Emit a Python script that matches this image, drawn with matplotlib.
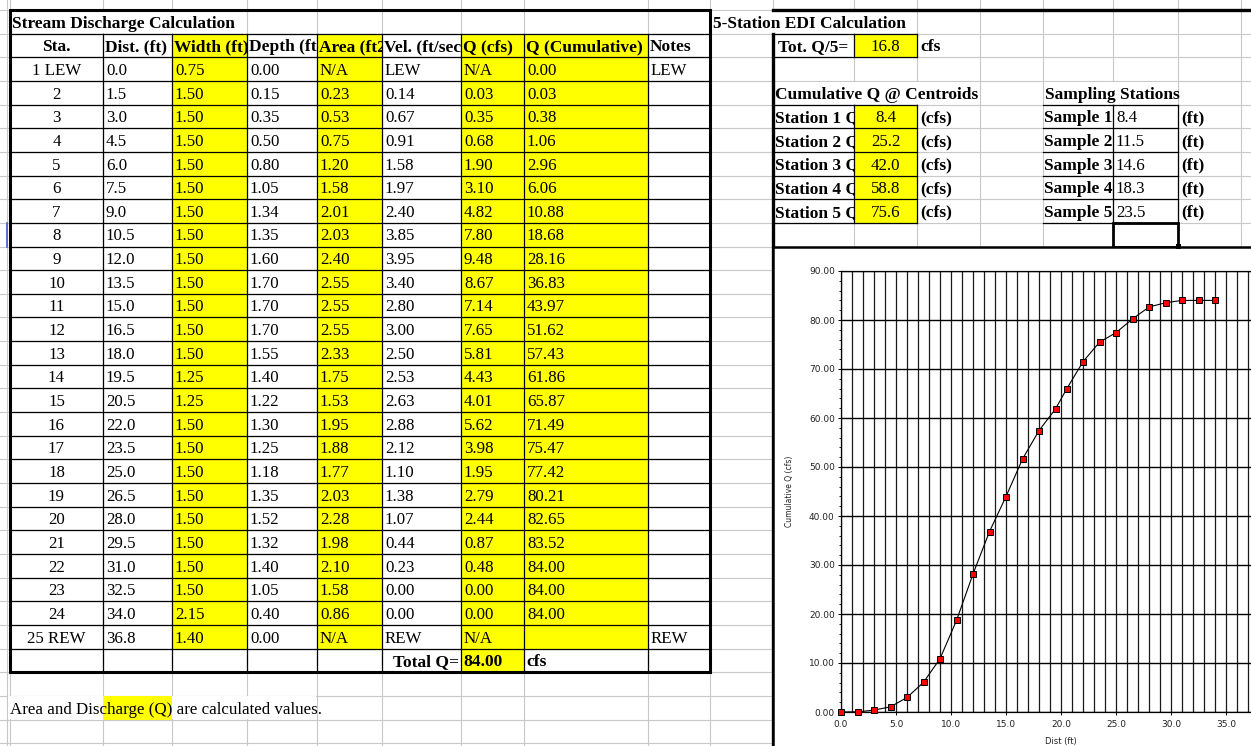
import numpy as np
import matplotlib
matplotlib.use("Agg")
import matplotlib.pyplot as plt
from matplotlib.patches import Rectangle
from matplotlib.transforms import Bbox, TransformedBbox
from matplotlib.ticker import MultipleLocator, FormatStrFormatter

# --- stream discharge table ---
stations = ["1 LEW", "2", "3", "4", "5", "6", "7", "8", "9", "10", "11", "12", "13",
            "14", "15", "16", "17", "18", "19", "20", "21", "22", "23", "24", "25 REW"]
dist = [0.0, 1.5, 3.0, 4.5, 6.0, 7.5, 9.0, 10.5, 12.0, 13.5, 15.0, 16.5, 18.0,
        19.5, 20.5, 22.0, 23.5, 25.0, 26.5, 28.0, 29.5, 31.0, 32.5, 34.0, 36.8]
width = [0.75, 1.50, 1.50, 1.50, 1.50, 1.50, 1.50, 1.50, 1.50, 1.50, 1.50, 1.50, 1.50,
         1.25, 1.25, 1.50, 1.50, 1.50, 1.50, 1.50, 1.50, 1.50, 1.50, 2.15, 1.40]
depth = [0.00, 0.15, 0.35, 0.50, 0.80, 1.05, 1.34, 1.35, 1.60, 1.70, 1.70, 1.70, 1.55,
         1.40, 1.22, 1.30, 1.25, 1.18, 1.35, 1.52, 1.32, 1.40, 1.05, 0.40, 0.00]
area = [None, 0.23, 0.53, 0.75, 1.20, 1.58, 2.01, 2.03, 2.40, 2.55, 2.55, 2.55, 2.33,
        1.75, 1.53, 1.95, 1.88, 1.77, 2.03, 2.28, 1.98, 2.10, 1.58, 0.86, None]
vel = ["LEW", 0.14, 0.67, 0.91, 1.58, 1.97, 2.40, 3.85, 3.95, 3.40, 2.80, 3.00, 2.50,
       2.53, 2.63, 2.88, 2.12, 1.10, 1.38, 1.07, 0.44, 0.23, 0.00, 0.00, "REW"]
q = [None, 0.03, 0.35, 0.68, 1.90, 3.10, 4.82, 7.80, 9.48, 8.67, 7.14, 7.65, 5.81,
     4.43, 4.01, 5.62, 3.98, 1.95, 2.79, 2.44, 0.87, 0.48, 0.00, 0.00, None]
q_cum = [0.00, 0.03, 0.38, 1.06, 2.96, 6.06, 10.88, 18.68, 28.16, 36.83, 43.97, 51.62, 57.43,
         61.86, 65.87, 71.49, 75.47, 77.42, 80.21, 82.65, 83.52, 84.00, 84.00, 84.00, ""]
notes = ["LEW"] + [""] * 23 + ["REW"]
headers = ["Sta.", "Dist. (ft)", "Width (ft)", "Depth (ft)", "Area (ft2)",
           "Vel. (ft/sec)", "Q (cfs)", "Q (Cumulative)", "Notes"]
total_q = 84.00

# --- 5-station EDI ---
tot_q5 = 16.8
station_q = [8.4, 25.2, 42.0, 58.8, 75.6]
sample_dist = [8.4, 11.5, 14.6, 18.3, 23.5]

W, H = 1251, 746
ROW_H = 23.65
TOP = 10
YELLOW = "#ffff00"
GRID = "#c8c8c8"
SERIF = "Liberation Serif"

cols = [10, 103, 172, 247, 317, 382, 461, 524, 648, 710]
rcols = [773, 854, 917, 980, 1043, 1113, 1178, 1241]
yellow_cols = [2, 4, 6, 7]


def ry(k):
    return TOP + ROW_H * k


def Y(y):
    return H - y


fig = plt.figure(figsize=(W / 100, H / 100), dpi=100)
sheet = fig.add_axes([0, 0, 1, 1])
sheet.set_xlim(0, W)
sheet.set_ylim(0, H)
sheet.axis("off")


def box(x0, y0, x1, y1, fc="white", ec="none", lw=0, z=1):
    sheet.add_patch(Rectangle((x0, Y(y1)), x1 - x0, y1 - y0, facecolor=fc,
                              edgecolor=ec, linewidth=lw, zorder=z))


def hline(y, x0, x1, color="black", lw=0.9, z=3):
    sheet.plot([x0, x1], [Y(y), Y(y)], color=color, lw=lw, zorder=z,
               solid_capstyle="projecting")


def vline(x, y0, y1, color="black", lw=0.9, z=3):
    sheet.plot([x, x], [Y(y0), Y(y1)], color=color, lw=lw, zorder=z,
               solid_capstyle="projecting")


def put(x0, x1, row, s, bold=False, align="left", clip=True, pad=3):
    y = Y(ry(row + 1) - 6)
    if align == "left":
        x, ha = x0 + pad, "left"
    elif align == "center":
        x, ha = (x0 + x1) / 2, "center"
    else:
        x, ha = x1 - pad, "right"
    t = sheet.text(x, y, s, ha=ha, va="baseline", family=SERIF,
                   fontsize=12.5 if bold else 12.2,
                   fontweight="bold" if bold else "normal", zorder=5)
    if clip:
        bb = Bbox.from_extents(x0, Y(ry(row + 1)), x1, Y(ry(row)))
        t.set_clip_box(TransformedBbox(bb, sheet.transData))
        t.set_clip_on(True)
    return t


def fmt(v, nd=2):
    if v is None:
        return "N/A"
    if isinstance(v, str):
        return v
    return f"{v:.{nd}f}"


# sheet gridlines
for x in [7] + cols + rcols:
    vline(x, 0, H, color=GRID, lw=0.8, z=0)
for k in range(32):
    hline(ry(k), 0, W, color=GRID, lw=0.8, z=0)

# text spilling over neighbouring cells hides their gridlines
box(11, ry(0) + 0.6, 246, ry(1) - 0.6)
box(711, ry(0) + 0.6, 916, ry(1) - 0.6)
box(774, ry(3) + 0.6, 979, ry(4) - 0.6)
box(1044, ry(3) + 0.6, 1177, ry(4) - 0.6)
box(8, ry(29) + 0.6, 316, ry(30) - 0.6)

# yellow calculated cells
for c in yellow_cols:
    box(cols[c], ry(1), cols[c + 1], ry(27), fc=YELLOW)
box(cols[6], ry(27), cols[7], ry(28), fc=YELLOW)
box(cols[1], ry(29), cols[2], ry(30), fc=YELLOW)
box(rcols[1], ry(1), rcols[2], ry(2), fc=YELLOW)
box(rcols[1], ry(4), rcols[2], ry(9), fc=YELLOW)

# table cell borders
for k in range(1, 29):
    hline(ry(k), cols[0], cols[-1])
for x in cols:
    vline(x, ry(1), ry(28))
# outer frame
box(cols[0] - 0.5, ry(0), cols[-1], ry(28), fc="none", ec="black", lw=2.2, z=4)

# EDI block borders
hline(ry(0), rcols[0], W + 5, lw=2.4, z=4)
vline(rcols[0], ry(1), H + 5, lw=2.4, z=4)
hline(ry(1), rcols[0], rcols[2])
hline(ry(2), rcols[0], rcols[2])
vline(rcols[1], ry(1), ry(2))
vline(rcols[2], ry(1), ry(2))
for k in range(4, 10):
    hline(ry(k), rcols[0], rcols[2])
    hline(ry(k), rcols[4], rcols[6])
vline(rcols[1], ry(4), ry(9))
vline(rcols[2], ry(4), ry(9))
vline(rcols[5], ry(4), ry(9))
vline(rcols[6], ry(4), ry(9))
# active cell
box(rcols[5], ry(9), rcols[6], ry(10), fc="none", ec="black", lw=2.0, z=4)
box(rcols[6] - 2.5, ry(10) - 2.5, rcols[6] + 2.5, ry(10) + 2.5, fc="black", z=8)
# row marker at the sheet edge
vline(7, ry(9), ry(10), color="#3b63c4", lw=1.2, z=2)

# chart area
box(rcols[0], ry(10), W + 20, H + 20, fc="white", ec="black", lw=1.8, z=6)

# table text
put(cols[0], cols[1], 0, "Stream Discharge Calculation", bold=True, clip=False, pad=2)
for i, h in enumerate(headers):
    put(cols[i], cols[i + 1], 1, h, bold=True,
        align="center" if i == 0 else "left", pad=2)

for r in range(len(stations)):
    row = r + 2
    vals = [stations[r], f"{dist[r]:.1f}", fmt(width[r]), fmt(depth[r]),
            fmt(area[r]), fmt(vel[r]), fmt(q[r]), fmt(q_cum[r]), notes[r]]
    for i, s in enumerate(vals):
        if s:
            put(cols[i], cols[i + 1], row, s, align="center" if i == 0 else "left")

put(cols[5], cols[6], 27, "Total Q=", bold=True, align="right", pad=2)
put(cols[6], cols[7], 27, f"{total_q:.2f}", bold=True, pad=2)
put(cols[7], cols[8], 27, "cfs", bold=True, pad=2)
put(cols[0], cols[1], 29, "Area and Discharge (Q) are calculated values.",
    clip=False, pad=0)

# EDI text
put(cols[-1], rcols[0], 0, "5-Station EDI Calculation", bold=True, clip=False)
put(rcols[0], rcols[1], 1, "Tot. Q/5=", bold=True, pad=5)
put(rcols[1], rcols[2], 1, f"{tot_q5:.1f}", align="center")
put(rcols[2], rcols[3], 1, "cfs", bold=True)
put(rcols[0], rcols[1], 3, "Cumulative Q @ Centroids", bold=True, clip=False, pad=2)
put(rcols[4], rcols[5], 3, "Sampling Stations", bold=True, clip=False, pad=2)
for i in range(5):
    row = 4 + i
    put(rcols[0], rcols[1], row, f"Station {i + 1} Q", bold=True, pad=2)
    put(rcols[1], rcols[2], row, f"{station_q[i]:.1f}", align="center")
    put(rcols[2], rcols[3], row, "(cfs)", bold=True)
    put(rcols[4], rcols[5], row, f"Sample {i + 1}", bold=True, pad=1)
    put(rcols[5], rcols[6], row, f"{sample_dist[i]:.1f}", pad=3)
    put(rcols[6], rcols[7], row, "(ft)", bold=True, pad=3)

# cumulative discharge chart
x0, x1 = 841, 1281
y_top, y_bot = 271, 712
ax = fig.add_axes([x0 / W, (H - y_bot) / H, (x1 - x0) / W, (y_bot - y_top) / H])
ax.set_zorder(10)
ax.plot(dist[:24], q_cum[:24], color="black", lw=0.8, marker="s", ms=5.0,
        mfc="red", mec="black", mew=0.7, clip_on=False, zorder=5)
ax.set_xlim(0, 40)
ax.set_ylim(0, 90)
ax.set_xticks(np.arange(0, 36, 5))
ax.xaxis.set_minor_locator(MultipleLocator(1))
ax.yaxis.set_major_locator(MultipleLocator(10))
ax.yaxis.set_minor_locator(MultipleLocator(2))
ax.xaxis.set_major_formatter(FormatStrFormatter("%.1f"))
ax.yaxis.set_major_formatter(FormatStrFormatter("%.2f"))
ax.grid(which="both", axis="x", color="#1a1a1a", lw=0.9)
ax.grid(which="major", axis="y", color="black", lw=1.0)
ax.tick_params(which="major", length=2.5, width=0.7, pad=2, labelsize=6.5,
               labelcolor="#222222", labelfontfamily="DejaVu Sans")
ax.tick_params(axis="x", which="major", pad=3)
ax.tick_params(axis="x", which="minor", length=0)
ax.tick_params(axis="y", which="minor", length=1.6, width=0.6)
for sp in ax.spines.values():
    sp.set_color("black")
    sp.set_linewidth(0.9)
ax.set_xlabel("Dist (ft)", fontsize=6, family="DejaVu Sans", color="#222222")
ax.set_ylabel("Cumulative Q (cfs)", fontsize=5.5, family="DejaVu Sans", color="#222222")
ax.xaxis.set_label_coords(0.5, -(737 - y_bot) / (y_bot - y_top))
ax.yaxis.set_label_coords(-(x0 - 794) / (x1 - x0), 0.5)

fig.savefig("out.png", dpi=100)
